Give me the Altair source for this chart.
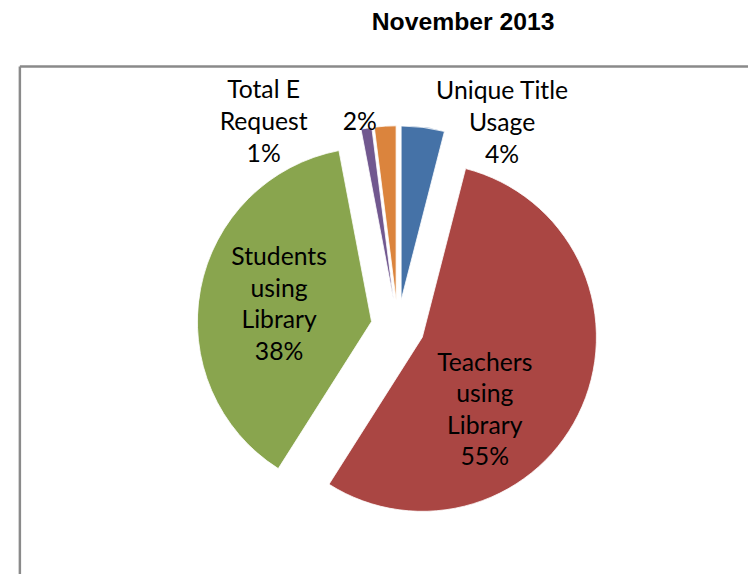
import altair as alt
import pandas as pd

# ---- data ----
categories = ["Unique Title Usage", "Teachers using Library", "Students using Library", "Total E Request", ""]
label_text = ["Unique Title\nUsage", "Teachers\nusing\nLibrary", "Students\nusing\nLibrary", "Total E\nRequest", ""]
percent = [4, 55, 38, 1, 2]

# ---- style ----
colors = ["#4572A7", "#AA4643", "#89A54E", "#71588F", "#DB843D"]
label_dist = [206, 97, 95, 223, 183]       # distance of label from slice tip (px)
label_turn = [22.5, 26, -0.45, -27.1, -7.95]  # angular shift of label from slice bisector (deg)
CX, CY = 382, 263      # pie centre in view pixels
RADIUS = 176
EXPLODE = 27
LINE_H = 32
W, H = 736, 510

df = pd.DataFrame({
    "idx": list(range(len(categories))),
    "category": categories,
    "pct": percent,
    "ldist": label_dist,
    "lturn": label_turn,
})
df["label"] = [(n + "\n" if n else "") + f"{p}%" for n, p in zip(label_text, percent)]
df["nlines"] = [s.count("\n") + 1 for s in df["label"]]

base = (
    alt.Chart(df)
    .transform_joinaggregate(total="sum(pct)")
    .transform_window(cum="sum(pct)", sort=[alt.SortField("idx")], frame=[None, 0])
    .transform_calculate(start="datum.cum - datum.pct")
    .transform_calculate(mid="2*PI*(datum.cum - datum.pct/2)/datum.total")
    .transform_calculate(sx=f"{CX} + {EXPLODE}*sin(datum.mid)")
    .transform_calculate(sy=f"{CY} - {EXPLODE}*cos(datum.mid)")
    .transform_calculate(la="datum.mid + datum.lturn*PI/180")
    .transform_calculate(lx="datum.sx + datum.ldist*sin(datum.la)")
    .transform_calculate(ly=f"datum.sy - datum.ldist*cos(datum.la) - (datum.nlines - 1)*{LINE_H}/2")
)

arcs = base.mark_arc(radius=RADIUS, stroke="white", strokeWidth=0.8).encode(
    theta=alt.Theta("start:Q", scale=alt.Scale(domain=[0, sum(percent)])),
    theta2="cum:Q",
    x=alt.X("sx:Q", scale=None, axis=None),
    y=alt.Y("sy:Q", scale=None, axis=None),
    color=alt.Color("category:N", scale=alt.Scale(domain=categories, range=colors), legend=None),
)

labels = base.mark_text(
    font="Lato", fontSize=25, lineBreak="\n", lineHeight=LINE_H,
    align="center", baseline="middle", color="black",
).encode(
    x=alt.X("lx:Q", scale=None, axis=None),
    y=alt.Y("ly:Q", scale=None, axis=None),
    text="label:N",
)

one = alt.Data(values=[{}])
frame_left = alt.Chart(one).mark_rule(color="#8a8a8a", strokeWidth=2.5).encode(
    x=alt.value(0), y=alt.value(0), y2=alt.value(H + 30)
)
frame_top = alt.Chart(one).mark_rule(color="#8a8a8a", strokeWidth=2.5).encode(
    x=alt.value(0), x2=alt.value(W + 30), y=alt.value(0)
)

chart = (
    alt.layer(frame_left, frame_top, arcs, labels)
    .properties(
        width=W,
        height=H,
        title=alt.Title(
            "November 2013", font="Liberation Sans", fontSize=25, fontWeight="bold",
            color="black", anchor="middle", dx=80, offset=11, baseline="alphabetic",
        ),
        padding={"left": 12, "top": 56, "right": 0, "bottom": 0},
        autosize=alt.AutoSizeParams(type="none"),
    )
    .configure_view(stroke=None)
)

chart.save("out.html", embed_options={"renderer": "svg", "actions": False})
